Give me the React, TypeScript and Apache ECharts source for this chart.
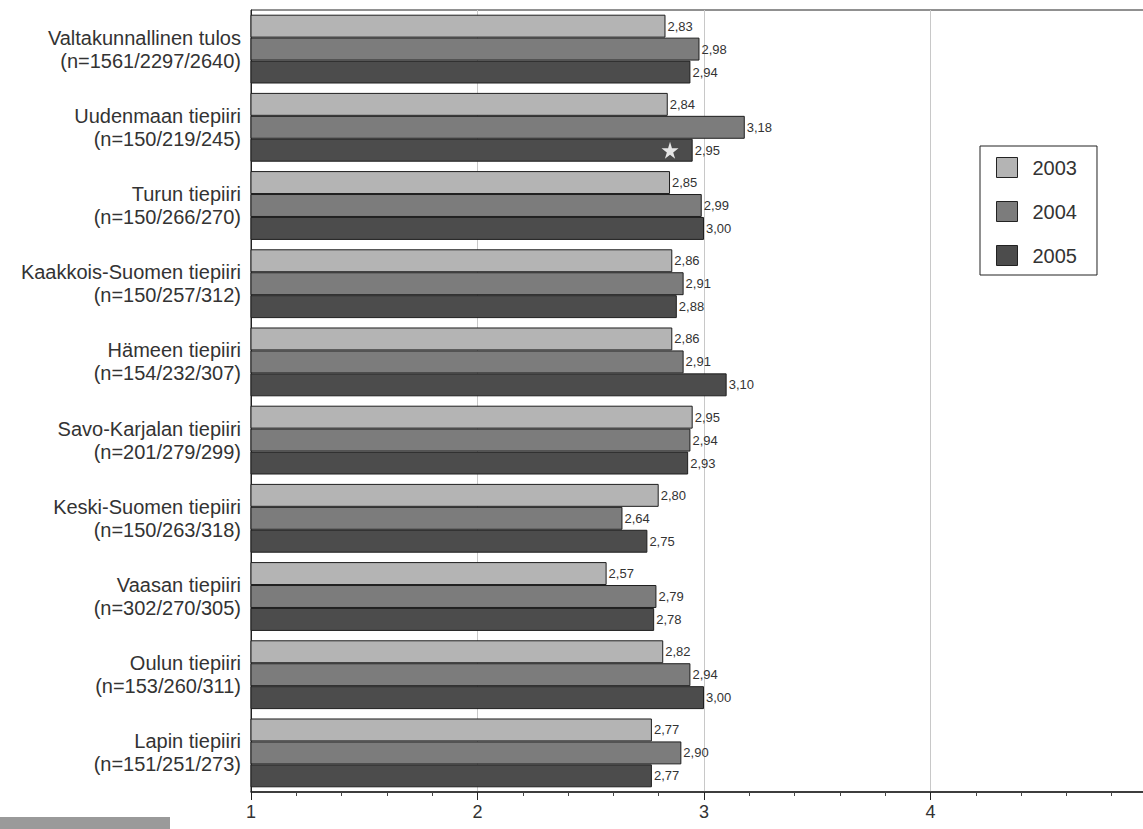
import React, { useEffect, useRef } from "react";
import * as echarts from "echarts";

const categories = [
  "Valtakunnallinen tulos\n(n=1561/2297/2640)",
  "Uudenmaan tiepiiri\n(n=150/219/245)",
  "Turun tiepiiri\n(n=150/266/270)",
  "Kaakkois-Suomen tiepiiri\n(n=150/257/312)",
  "Hämeen tiepiiri\n(n=154/232/307)",
  "Savo-Karjalan tiepiiri\n(n=201/279/299)",
  "Keski-Suomen tiepiiri\n(n=150/263/318)",
  "Vaasan tiepiiri\n(n=302/270/305)",
  "Oulun tiepiiri\n(n=153/260/311)",
  "Lapin tiepiiri\n(n=151/251/273)",
];

const years = ["2003", "2004", "2005"];
const values2003 = [2.83, 2.84, 2.85, 2.86, 2.86, 2.95, 2.8, 2.57, 2.82, 2.77];
const values2004 = [2.98, 3.18, 2.99, 2.91, 2.91, 2.94, 2.64, 2.79, 2.94, 2.9];
const values2005 = [2.94, 2.95, 3.0, 2.88, 3.1, 2.93, 2.75, 2.78, 3.0, 2.77];
const colors = ["#b4b4b4", "#7c7c7c", "#4c4c4c"];
const starValue = 2.85;
const starCategoryIndex = 1;

const STAR =
  "path://M50,0 L61,35 L98,35 L68,57 L79,91 L50,70 L21,91 L32,57 L2,35 L39,35 Z";

export default function App() {
  const ref = useRef<HTMLDivElement>(null);
  useEffect(() => {
    if (!ref.current) return;
    const chart = echarts.init(ref.current, null, { renderer: "svg" });
    const font = "Liberation Sans";
    const seriesData = [values2003, values2004, values2005];
    const series: any[] = seriesData.map((d, i) => ({
      name: years[i],
      type: "bar",
      data: d,
      barGap: "0%",
      barCategoryGap: "12%",
      itemStyle: { color: colors[i], borderColor: "#1e1e1e", borderWidth: 1 },
      label: {
        show: true,
        position: "right",
        distance: 2,
        fontFamily: font,
        fontSize: 13,
        color: "#333",
        formatter: (p: any) => p.value.toFixed(2).replace(".", ","),
      },
    }));
    series[2].markPoint = {
      symbol: STAR,
      symbolSize: 17,
      itemStyle: { color: "#e6e6e6" },
      label: { show: false },
      data: [{ coord: [starValue, starCategoryIndex] }],
    };
    chart.setOption({
      animation: false,
      backgroundColor: "#ffffff",
      textStyle: { fontFamily: font },
      grid: {
        left: 251,
        top: 10,
        width: 906,
        height: 782,
        show: true,
        borderColor: "#222",
        borderWidth: 1,
        outerBoundsMode: "none",
        containLabel: false,
      },
      legend: {
        orient: "vertical",
        left: 980,
        top: 146,
        icon: "rect",
        itemWidth: 21,
        itemHeight: 20,
        itemGap: 23,
        padding: [11, 20, 9, 16],
        borderColor: "#222",
        borderWidth: 1,
        backgroundColor: "#fff",
        textStyle: { fontFamily: font, fontSize: 20, color: "#333", padding: [0, 0, 0, 10] },
        data: years.map((y, i) => ({
          name: y,
          itemStyle: { color: colors[i], borderColor: "#222", borderWidth: 1 },
        })),
      },
      xAxis: {
        type: "value",
        min: 1,
        max: 5,
        interval: 1,
        axisLine: { show: true, lineStyle: { color: "#222", width: 1.5 } },
        axisTick: { show: true, length: 8, lineStyle: { color: "#222" } },
        minorTick: { show: true, splitNumber: 5, length: 4, lineStyle: { color: "#444" } },
        axisLabel: { fontFamily: font, fontSize: 18, color: "#333", margin: 11 },
        splitLine: { show: true, lineStyle: { color: "#c8c8c8", width: 1 } },
      },
      yAxis: {
        type: "category",
        data: categories,
        inverse: true,
        axisLine: { show: true, lineStyle: { color: "#222" } },
        axisTick: { show: false },
        axisLabel: {
          fontFamily: font,
          fontSize: 20,
          color: "#333",
          lineHeight: 23,
          margin: 10,
          align: "right",
        },
      },
      graphic: [
        {
          type: "rect",
          left: 0,
          top: 817,
          shape: { width: 170, height: 12 },
          style: { fill: "#9a9a9a" },
        },
      ],
      series,
    });
    return () => chart.dispose();
  }, []);
  return (
    <div
      ref={ref}
      style={{ position: "fixed", left: 0, top: 0, width: 1143, height: 829 }}
    />
  );
}
